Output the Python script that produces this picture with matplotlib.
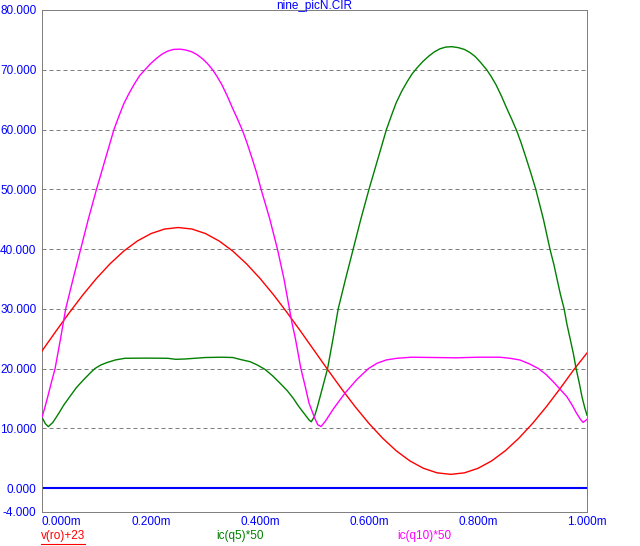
import matplotlib
matplotlib.use("Agg")
import matplotlib.pyplot as plt
from matplotlib.lines import Line2D

plt.rcParams['font.family'] = ['Liberation Sans', 'DejaVu Sans']

title = "nine_picN.CIR"

# time in ms
t_red = [0.000, 0.025, 0.050, 0.075, 0.100, 0.125, 0.150, 0.175, 0.200, 0.225,
         0.250, 0.275, 0.300, 0.325, 0.350, 0.375, 0.400, 0.425, 0.450, 0.475,
         0.500, 0.525, 0.550, 0.575, 0.600, 0.625, 0.650, 0.675, 0.700, 0.725,
         0.750, 0.775, 0.800, 0.825, 0.850, 0.875, 0.900, 0.925, 0.950, 0.975, 1.000]
v_red = [22.95, 26.18, 29.33, 32.33, 35.09, 37.55, 39.66, 41.35, 42.59, 43.35,
         43.60, 43.35, 42.59, 41.35, 39.66, 37.55, 35.09, 32.33, 29.33, 26.18,
         22.95, 19.72, 16.57, 13.57, 10.81, 8.35, 6.24, 4.55, 3.31, 2.55,
         2.30, 2.55, 3.31, 4.55, 6.24, 8.35, 10.81, 13.57, 16.57, 19.72, 22.60]

t_q5 = [0.000, 0.006, 0.0116, 0.020, 0.030, 0.040, 0.051, 0.063, 0.076, 0.090,
        0.097, 0.108, 0.119, 0.135, 0.152, 0.190, 0.231, 0.245, 0.262, 0.280,
        0.300, 0.330, 0.350, 0.365, 0.382, 0.395, 0.409, 0.423, 0.437, 0.450,
        0.461, 0.470, 0.480, 0.490, 0.494, 0.500, 0.505, 0.510, 0.517, 0.524,
        0.534, 0.5435, 0.557, 0.571, 0.585, 0.5925, 0.600, 0.608, 0.616, 0.624,
        0.632, 0.641, 0.650, 0.660, 0.670, 0.679, 0.688, 0.699, 0.710, 0.720,
        0.730, 0.741, 0.752, 0.764, 0.775, 0.785, 0.795, 0.805, 0.816, 0.824,
        0.833, 0.843, 0.853, 0.862, 0.871, 0.879, 0.888, 0.897, 0.906, 0.913,
        0.920, 0.926, 0.932, 0.939, 0.945, 0.951, 0.958, 0.963, 0.969, 0.975,
        0.980, 0.986, 0.991, 0.996, 1.000]
v_q5 = [11.85, 10.80, 10.28, 11.00, 12.40, 13.90, 15.30, 16.80, 18.10, 19.40,
        20.00, 20.60, 21.00, 21.45, 21.72, 21.75, 21.72, 21.55, 21.60, 21.72,
        21.85, 21.90, 21.85, 21.50, 21.15, 20.60, 19.87, 18.80, 17.53, 16.30,
        15.03, 13.80, 12.60, 11.40, 11.10, 12.00, 13.50, 15.20, 17.60, 20.00,
        25.00, 30.00, 35.00, 40.00, 45.00, 47.50, 50.00, 52.50, 55.00, 57.50,
        60.00, 62.30, 64.50, 66.40, 68.00, 69.30, 70.30, 71.40, 72.30, 73.00,
        73.50, 73.80, 73.86, 73.70, 73.40, 72.90, 72.20, 71.20, 70.00, 68.90,
        67.50, 65.60, 63.50, 61.70, 59.80, 57.80, 55.30, 52.70, 50.00, 47.50,
        45.00, 42.50, 40.00, 37.50, 35.00, 32.50, 30.00, 27.50, 25.00, 22.50,
        20.00, 17.50, 15.20, 13.40, 12.20]

t_q10 = [0.000, 0.005, 0.010, 0.017, 0.024, 0.034, 0.0435, 0.057, 0.071, 0.085,
         0.0925, 0.100, 0.108, 0.116, 0.124, 0.132, 0.141, 0.150, 0.160, 0.170,
         0.179, 0.189, 0.199, 0.210, 0.220, 0.230, 0.241, 0.253, 0.264, 0.275,
         0.285, 0.295, 0.304, 0.313, 0.321, 0.330, 0.340, 0.350, 0.359, 0.368,
         0.376, 0.385, 0.394, 0.402, 0.410, 0.418, 0.425, 0.432, 0.438, 0.444,
         0.449, 0.454, 0.459, 0.465, 0.470, 0.475, 0.483, 0.490, 0.500, 0.506,
         0.512, 0.520, 0.535, 0.556, 0.578, 0.599, 0.615, 0.632, 0.651, 0.678,
         0.720, 0.760, 0.800, 0.840, 0.859, 0.877, 0.894, 0.911, 0.925, 0.938,
         0.950, 0.963, 0.972, 0.981, 0.988, 0.993, 1.000]
v_q10 = [11.85, 13.40, 15.10, 17.60, 20.00, 25.00, 30.00, 35.00, 40.00, 45.00,
         47.50, 50.00, 52.50, 55.00, 57.50, 60.00, 62.20, 64.30, 66.10, 67.70,
         69.00, 70.00, 71.00, 71.90, 72.60, 73.10, 73.40, 73.45, 73.30, 73.00,
         72.50, 71.80, 71.00, 70.00, 68.90, 67.50, 65.60, 63.50, 61.70, 59.80,
         57.80, 55.30, 52.70, 50.00, 47.50, 45.00, 42.50, 40.00, 37.50, 35.00,
         32.50, 30.00, 27.50, 25.00, 22.50, 20.00, 17.00, 14.20, 11.80, 10.60,
         10.30, 11.20, 13.30, 15.90, 18.20, 20.00, 20.90, 21.45, 21.72, 21.90,
         21.85, 21.80, 21.90, 21.90, 21.72, 21.43, 20.80, 20.00, 19.00, 17.80,
         16.60, 15.30, 14.00, 12.50, 11.50, 11.00, 11.50]

t_zero = [0.0, 1.0]
v_zero = [0.0, 0.0]

y_ticks = [-4, 0, 10, 20, 30, 40, 50, 60, 70, 80]
x_ticks = [0.0, 0.2, 0.4, 0.6, 0.8, 1.0]
grid_levels = [10, 20, 30, 40, 50, 60, 70]

legend = [("v(ro)+23", "#ff0000", 41), ("ic(q5)*50", "#008000", 216), ("ic(q10)*50", "#ff00ff", 397)]

W, H = 640, 546
fig = plt.figure(figsize=(W / 100, H / 100), dpi=100)
ax = fig.add_axes([42 / W, 1 - 512 / H, 545 / W, 502 / H])

for g in grid_levels:
    ax.axhline(g, color="#808080", lw=0.72, linestyle=(0, (4, 3)), zorder=1)

ax.plot(t_zero, v_zero, color="#0000ff", lw=1.5, zorder=2)
ax.plot(t_red, v_red, color="#ff0000", lw=1.0, zorder=3)
ax.plot(t_q5, v_q5, color="#008000", lw=1.0, zorder=3)
ax.plot(t_q10, v_q10, color="#ff00ff", lw=1.0, zorder=3)

ax.set_xlim(0, 1.0)
ax.set_ylim(-4, 80)
ax.set_yticks(y_ticks)
ax.set_yticklabels(["%.3f" % v for v in y_ticks])
ax.set_xticks(x_ticks)
ax.set_xticklabels(["%.3fm" % v for v in x_ticks])
ax.tick_params(length=0, colors="#0000ff", labelsize=8.5, pad=4)
ax.tick_params(axis="x", pad=3)
ax.get_xticklabels()[0].set_horizontalalignment("left")

for s in ax.spines.values():
    s.set_color("#808080")
    s.set_linewidth(0.72)
    s.set_linestyle((0, (1, 1)))

fig.text(314 / W, 1 - 9 / H, title, color="#0000ff", fontsize=8.5, ha="center", va="baseline")

fig.canvas.draw()
renderer = fig.canvas.get_renderer()
for i, (name, col, x0) in enumerate(legend):
    txt = fig.text(x0 / W, 1 - 539 / H, name, color=col, fontsize=8.5, ha="left", va="baseline")
    if i == 0:
        bb = txt.get_window_extent(renderer)
        y_ul = (bb.y0 - 1.5) / H
        fig.add_artist(Line2D([bb.x0 / W, bb.x1 / W], [y_ul, y_ul], color=col, lw=0.8))

fig.savefig("out.png", dpi=100)
